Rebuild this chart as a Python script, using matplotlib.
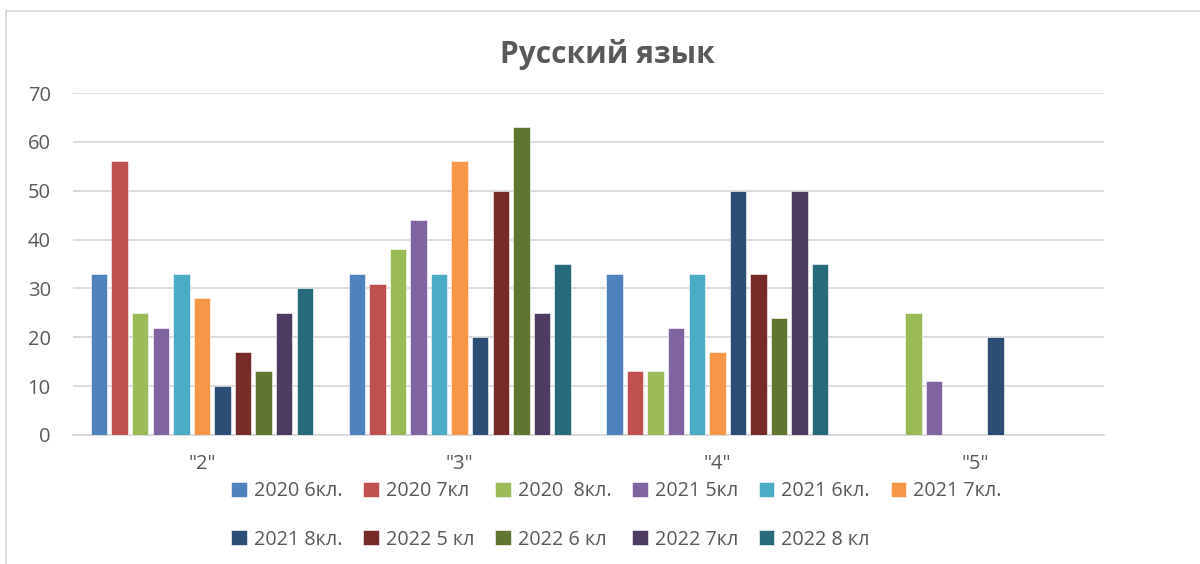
import matplotlib
matplotlib.use("Agg")
import matplotlib.pyplot as plt
from matplotlib.lines import Line2D
import numpy as np

plt.rcParams['font.family'] = ['Open Sans', 'DejaVu Sans']

categories = ['"2"', '"3"', '"4"', '"5"']
series_names = ['2020 6кл.', '2020 7кл', '2020  8кл.', '2021 5кл', '2021 6кл.', '2021 7кл.',
                '2021 8кл.', '2022 5 кл', '2022 6 кл', '2022 7кл', '2022 8 кл']
s_2020_6 = [33, 33, 33, 0]
s_2020_7 = [56, 31, 13, 0]
s_2020_8 = [25, 38, 13, 25]
s_2021_5 = [22, 44, 22, 11]
s_2021_6 = [33, 33, 33, 0]
s_2021_7 = [28, 56, 17, 0]
s_2021_8 = [10, 20, 50, 20]
s_2022_5 = [17, 50, 33, 0]
s_2022_6 = [13, 63, 24, 0]
s_2022_7 = [25, 25, 50, 0]
s_2022_8 = [30, 35, 35, 0]
series_values = [s_2020_6, s_2020_7, s_2020_8, s_2021_5, s_2021_6, s_2021_7,
                 s_2021_8, s_2022_5, s_2022_6, s_2022_7, s_2022_8]
colors = ['#4F81BD', '#C0504D', '#9BBB59', '#8064A2', '#4BACC6', '#F79646',
          '#2C4D75', '#772C2A', '#5F7530', '#4D3B62', '#276A7C']
yticks = [0, 10, 20, 30, 40, 50, 60, 70]

W, H = 1200, 564
fig = plt.figure(figsize=(W / 100, H / 100), dpi=100)
fig.patch.set_facecolor('white')
ax = fig.add_axes([73 / W, 1 - 435 / H, (1104 - 73) / W, (435 - 93) / H])

x = np.arange(len(categories))
pitch = 0.0798
bw = 0.0636
handles = []
for j, (vals, c) in enumerate(zip(series_values, colors)):
    b = ax.bar(x + (j - 5) * pitch, vals, width=bw, color=c, edgecolor='white',
               linewidth=0.4, label=series_names[j], zorder=3)
    handles.append(b)

ax.set_xlim(-0.5, len(categories) - 0.5)
ax.set_ylim(0, 70)
ax.set_yticks(yticks)
ax.yaxis.grid(True, color='#d9d9d9', linewidth=1.3, zorder=0)
ax.set_axisbelow(True)
for sp in ['left', 'right', 'top']:
    ax.spines[sp].set_visible(False)
ax.spines['bottom'].set_color('#d9d9d9')
ax.spines['bottom'].set_linewidth(1.3)
ax.set_xticks(x)
ax.set_xticklabels(categories)
ax.tick_params(axis='both', length=0, labelsize=14.5, labelcolor='#595959')
ax.tick_params(axis='y', pad=16)
ax.tick_params(axis='x', pad=14)

fig.text(607 / W, 1 - 55 / H, 'Русский язык', ha='center', va='center',
         fontsize=21.5, fontweight='bold', color='#595959')

order = [0, 6, 1, 7, 2, 8, 3, 9, 4, 10, 5]
leg = fig.legend([handles[i] for i in order], [series_names[i] for i in order],
                 ncol=6, loc='upper left', bbox_to_anchor=(231 / W, 1 - 481 / H),
                 frameon=False, fontsize=14.2, handlelength=0.8, handleheight=0.8,
                 handletextpad=0.35, columnspacing=1.05, labelspacing=1.45,
                 borderaxespad=0, borderpad=0)
for t in leg.get_texts():
    t.set_color('#595959')

# chart border
fig.add_artist(Line2D([6 / W, 6 / W, 1.0], [0.0, 1 - 11 / H, 1 - 11 / H],
                      transform=fig.transFigure, color='#d9d9d9', linewidth=1.3))

fig.savefig('out.png', dpi=100)
